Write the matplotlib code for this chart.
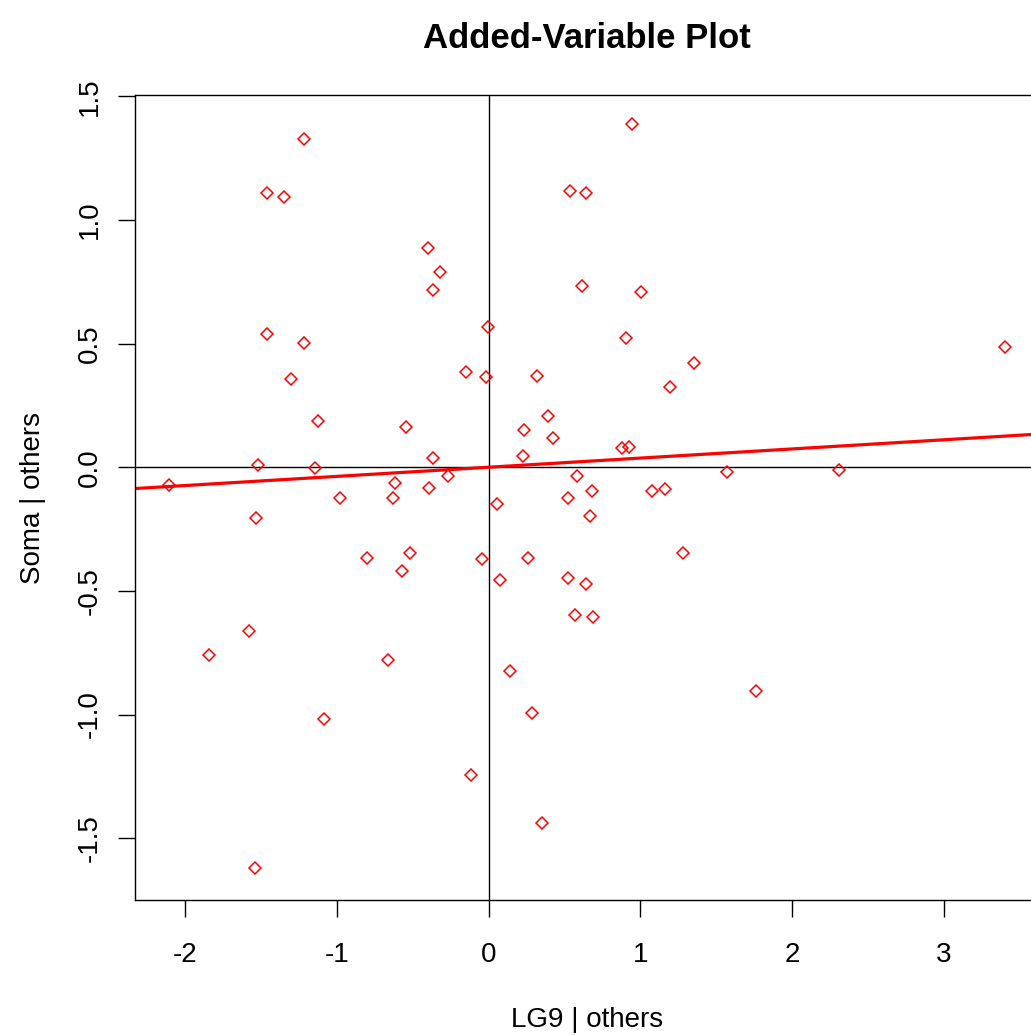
import numpy as np
import matplotlib
matplotlib.use("Agg")
import matplotlib.pyplot as plt

plt.rcParams['font.family'] = ['Liberation Sans', 'DejaVu Sans']

# residuals
lg9_resid = [-1.219, -1.458, -1.350, -0.400, -0.318, -0.367, -0.004, -1.458, -1.219, -1.302,
             -0.149, -0.015, 0.318, -1.122, -0.547, 0.391, 0.234, 0.426, -0.367, 0.223,
             -1.520, -1.144, -2.106, -0.268, -0.619, -0.391, 0.580, -0.980, -0.632, -1.530,
             0.056, 0.523, -0.799, -0.520, -0.569, -0.044, 0.259, 0.078, 0.523, 0.571,
             -1.577, -1.842, -0.665, 0.139, -1.085, 0.283, -0.114, 0.354, -1.542, 0.943,
             0.536, 0.644, 0.617, 1.003, 0.908, 3.403, 1.350, 1.195, 0.878, 0.922,
             1.568, 2.311, 0.679, 1.075, 1.161, 0.667, 0.642, 1.281, 0.690, 1.760]
soma_resid = [1.328, 1.107, 1.092, 0.887, 0.790, 0.716, 0.569, 0.539, 0.503, 0.355,
              0.384, 0.364, 0.370, 0.186, 0.163, 0.209, 0.150, 0.120, 0.039, 0.046,
              0.008, -0.005, -0.070, -0.035, -0.065, -0.086, -0.035, -0.124, -0.124, -0.205,
              -0.147, -0.124, -0.367, -0.345, -0.419, -0.373, -0.367, -0.456, -0.448, -0.596,
              -0.663, -0.759, -0.780, -0.825, -1.016, -0.994, -1.245, -1.437, -1.620, 1.387,
              1.115, 1.107, 0.731, 0.709, 0.524, 0.488, 0.422, 0.325, 0.076, 0.082,
              -0.021, -0.012, -0.096, -0.096, -0.089, -0.198, -0.472, -0.346, -0.604, -0.906]
slope = 0.037

x_ticks = [-2, -1, 0, 1, 2, 3]
y_ticks = [-1.5, -1.0, -0.5, 0.0, 0.5, 1.0, 1.5]

fig = plt.figure(figsize=(10.31, 10.35), dpi=100)
ax = fig.add_axes([0.1309, 0.1304, 0.8768, 0.7778])

ax.axhline(0, color='black', lw=1.0, zorder=1)
ax.axvline(0, color='black', lw=1.0, zorder=1)
ax.plot(lg9_resid, soma_resid, linestyle='none', marker='D', markersize=6.3,
        markerfacecolor='none', markeredgecolor='red', markeredgewidth=1.1, zorder=3)
ax.axline((0, 0), slope=slope, color='red', lw=2.3, zorder=2)

ax.set_xlim(-2.33, 3.625)
ax.set_ylim(-1.75, 1.505)
ax.set_xticks(x_ticks)
ax.set_xticklabels([str(t) for t in x_ticks])
ax.set_yticks(y_ticks)
ax.set_yticklabels(['%.1f' % t for t in y_ticks], rotation=90, va='center')

ax.tick_params(axis='both', direction='out', length=12, width=1.0, labelsize=20)
ax.tick_params(axis='x', pad=18)
ax.tick_params(axis='y', pad=11)
for s in ax.spines.values():
    s.set_linewidth(1.0)

ax.set_xlabel('LG9 | others', fontsize=20, va='baseline')
ax.xaxis.set_label_coords(0.5, -0.158)
ax.set_ylabel('Soma | others', fontsize=20, va='baseline')
ax.yaxis.set_label_coords(-0.105, 0.5)

fig.text(587 / 1031, 1 - 48 / 1035, 'Added-Variable Plot', fontsize=25,
         fontweight='bold', ha='center', va='baseline')

fig.savefig('out.png', dpi=100)
